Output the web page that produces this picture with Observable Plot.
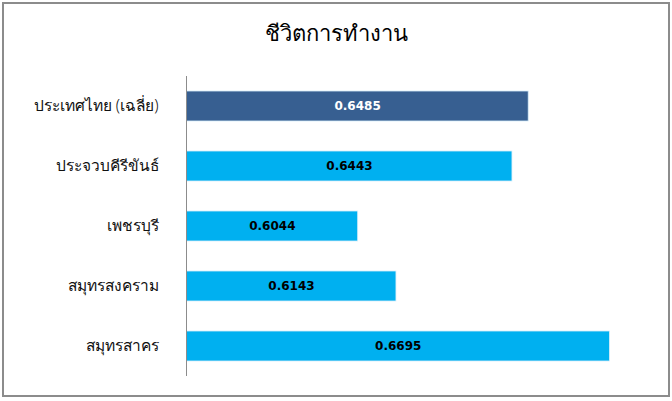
<!DOCTYPE html>
<html>
<head>
<meta charset="utf-8">
<script src="https://cdn.jsdelivr.net/npm/d3@7"></script>
<script src="https://cdn.jsdelivr.net/npm/@observablehq/plot@0.6"></script>
<style>
  html, body { margin: 0; padding: 0; background: #fff; }
  #wrap { position: relative; width: 672px; height: 401px; overflow: hidden; }
  #frame { position: absolute; left: 2px; top: 2px; width: 664px; height: 391px; border: 2px solid #8c8c8c; }
  #title { position: absolute; left: 0; width: 672px; top: 16px; text-align: center;
           font-family: "Noto Sans", "DejaVu Sans", sans-serif; font-size: 22px; color: #000; }
  #chart { position: absolute; left: 0; top: 0; }
</style>
</head>
<body>
<div id="wrap">
  <div id="frame"></div>
  <div id="title">ชีวิตการทำงาน</div>
  <div id="chart"></div>
</div>
<script>
const categories = ["ประเทศไทย (เฉลี่ย)", "ประจวบคีรีขันธ์", "เพชรบุรี", "สมุทรสงคราม", "สมุทรสาคร"];
const values = [0.6485, 0.6443, 0.6044, 0.6143, 0.6695];
const groups = ["avg", "prov", "prov", "prov", "prov"];

const data = categories.map((c, i) => ({category: c, value: values[i], group: groups[i]}));

const chart = Plot.plot({
  width: 672,
  height: 401,
  marginTop: 76,
  marginBottom: 25,
  marginLeft: 186,
  marginRight: 22,
  style: {background: "transparent", fontFamily: "\"Noto Sans\", \"DejaVu Sans\", sans-serif"},
  x: {domain: [0.56, 0.68], axis: null},
  y: {domain: categories, paddingInner: 0.5, paddingOuter: 0.25, label: null},
  color: {domain: ["avg", "prov"], range: ["#375f91", "#00b0f0"]},
  marks: [
    Plot.barX(data, {y: "category", x: "value", fill: "group", stroke: "#d8eefa", strokeWidth: 0.8, clip: true}),
    Plot.ruleX([0.56], {stroke: "#8c8c8c", strokeWidth: 1}),
    Plot.axisY({tickSize: 0, tickPadding: 28, fontSize: 15.5, fontWeight: 300, fill: "#111", label: null}),
    Plot.text(data, {
      y: "category",
      x: d => (0.56 + d.value) / 2,
      text: d => d.value.toFixed(4),
      fill: d => d.group === "avg" ? "#ffffff" : "#000000",
      fontSize: 12,
      fontWeight: "bold",
      fontFamily: "\"DejaVu Sans\", sans-serif",
      letterSpacing: "0.8px"
    })
  ]
});
document.getElementById("chart").appendChild(chart);
</script>
</body>
</html>
